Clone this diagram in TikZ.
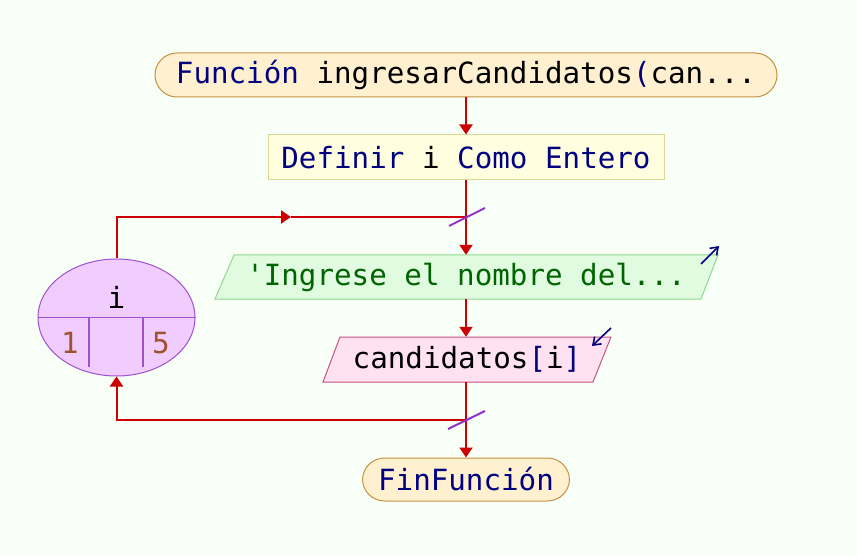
\documentclass[tikz,border=0pt]{standalone}
\usepackage{fontspec}
\setmonofont{DejaVu Sans Mono}
\usetikzlibrary{arrows.meta,shapes.geometric}
\definecolor{bg}{HTML}{F7FFF7}
\definecolor{flowred}{HTML}{CC0000}
\definecolor{kw}{HTML}{000080}
\definecolor{termfill}{HTML}{FFF0D0}
\definecolor{termdraw}{HTML}{C89040}
\definecolor{deffill}{HTML}{FFFFE0}
\definecolor{defdraw}{HTML}{D8D890}
\definecolor{infill}{HTML}{E0FBE0}
\definecolor{indraw}{HTML}{90D890}
\definecolor{intext}{HTML}{006400}
\definecolor{outfill}{HTML}{FFE2F2}
\definecolor{outdraw}{HTML}{C85080}
\definecolor{loopfill}{HTML}{F0CCFF}
\definecolor{loopdraw}{HTML}{A050D0}
\definecolor{num}{HTML}{A0522D}
\definecolor{cross}{HTML}{9030D0}
\tikzset{
  txt/.style={font=\ttfamily\fontsize{29.2}{34}\selectfont, inner sep=0pt},
  term/.style={txt, draw=termdraw, fill=termfill, line width=1pt, rounded corners=22pt, minimum height=44pt},
  defbox/.style={txt, draw=defdraw, fill=deffill, line width=1pt, minimum height=45pt},
  flow/.style={draw=flowred, line width=2pt},
  tip/.style={-{Triangle[length=10pt,width=13pt]}},
  crossmark/.style={draw=cross, line width=2pt},
  ioarrow/.style={draw=kw, line width=1.6pt, -{Straight Barb[length=7pt,width=10pt]}},
}
\begin{document}
\begin{tikzpicture}[x=1pt,y=-1pt]
\fill[bg] (0,0) rectangle (857,556);
\useasboundingbox (0,0) rectangle (857,556);

% start
\node[term, minimum width=622pt] (start) at (466,75)
  {\textcolor{kw}{Función} ingresarCandidatos\textcolor{kw}{(}can...};
% define
\node[defbox, minimum width=396pt] (def) at (466,157.5)
  {\textcolor{kw}{Definir} i \textcolor{kw}{Como Entero}};

% input parallelogram
\draw[draw=indraw, fill=infill, line width=1pt] (234,255) -- (718,255) -- (701,299) -- (215,299) -- cycle;
\node[txt, text=intext, minimum width=465pt, minimum height=44pt] (inp) at (466,277) {'Ingrese el nombre del...};
\coordinate (ina) at (701,264);
\coordinate (inb) at (719,246);
\draw[ioarrow] (ina) -- (inb);

% output parallelogram
\draw[draw=outdraw, fill=outfill, line width=1pt] (340,337) -- (611,337) -- (593,382) -- (323,382) -- cycle;
\node[txt, minimum width=262pt, minimum height=45pt] (outp) at (466,359.5) {\hspace*{2pt}candidatos\textcolor{kw}{[}i\textcolor{kw}{]}};
\coordinate (oa) at (611,328);
\coordinate (ob) at (592,346);
\draw[ioarrow] (oa) -- (ob);

% end
\node[term, minimum width=207pt, minimum height=43pt] (fin) at (466,479.5) {\textcolor{kw}{FinFunción}};

% loop ellipse
\node[ellipse, draw=loopdraw, fill=loopfill, line width=1pt, minimum width=157pt, minimum height=117pt, inner sep=0pt] (loop) at (116.5,317.5) {};
\draw[draw=loopdraw, line width=1.5pt] (loop.west) -- (loop.east);
\coordinate (v1a) at (89,317.5);
\coordinate (v1b) at (89,367);
\coordinate (v2a) at (143,317.5);
\coordinate (v2b) at (143,367);
\draw[draw=loopdraw, line width=1.5pt] (v1a) -- (v1b) (v2a) -- (v2b);
\node[txt] (lvar) at (116.5,297) {i};
\node[txt, text=num] (lfrom) at (70,343) {1};
\node[txt, text=num] (lto) at (161,343) {5};

% connectors
\coordinate (jtop) at (466,217);
\coordinate (jbot) at (466,420);
\coordinate (mid) at (291,217);
\draw[flow, tip] (start.south) -- (def.north);
\draw[flow, tip] (def.south) -- (inp.north);
\draw[flow, tip] (inp.south) -- (outp.north);
\draw[flow, tip] (outp.south) -- (fin.north);
\draw[flow, tip] (loop.north) |- (mid);
\draw[flow] (mid) -- (jtop);
\draw[flow, tip] (jbot) -| (loop.south);

% cross marks
\coordinate (c1a) at (449,226);
\coordinate (c1b) at (485,208);
\coordinate (c2a) at (448,429);
\coordinate (c2b) at (485,411);
\draw[crossmark] (c1a) -- (c1b);
\draw[crossmark] (c2a) -- (c2b);
\end{tikzpicture}
\end{document}
